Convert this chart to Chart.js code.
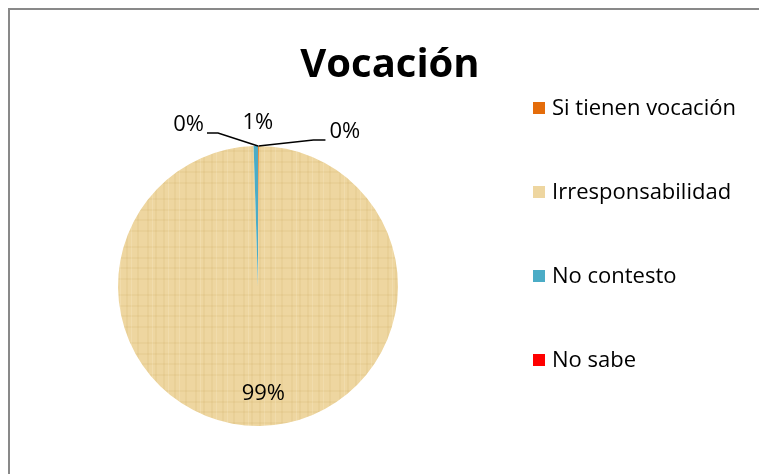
<!DOCTYPE html>
<html lang="es">
<head>
<meta charset="UTF-8">
<title>Vocación</title>
<script src="https://cdn.jsdelivr.net/npm/chart.js"></script>
<style>
    html, body { margin: 0; padding: 0; background: #fff; overflow: hidden; }
    #wrap { position: relative; width: 759px; height: 474px; }
    /* gray chart frame, right and bottom edges run off the picture */
    #frame { position: absolute; left: 8px; top: 8px; width: 800px; height: 500px; border: 2px solid #898989; }
    #pie { position: absolute; left: 0; top: 0; }
</style>
</head>
<body>
<div id="wrap">
    <div id="frame"></div>
    <canvas id="pie" width="759" height="474"></canvas>
</div>
<script>
    var chartTitle = 'Vocación';
    var categories = ['Si tienen vocación', 'Irresponsabilidad', 'No contesto', 'No sabe'];
    var values = [0.1, 99.4, 0.5, 0];
    var sliceColors = ['#E46C0A', '#EED6A0', '#4BACC6', '#FF0000'];

    var labelFont = '22px "Open Sans", sans-serif';

    function pctText(v) {
        var total = values.reduce(function (a, b) { return a + b; }, 0);
        return Math.round(v / total * 100 + 1e-9) + '%';
    }

    // papyrus-like fill for the big slice (light grid of darker streaks)
    function paperPattern(base) {
        var c = document.createElement('canvas');
        c.width = 48; c.height = 48;
        var g = c.getContext('2d');
        g.fillStyle = base;
        g.fillRect(0, 0, 48, 48);
        g.fillStyle = 'rgba(200,160,80,0.10)';
        [3, 11, 19, 30, 41].forEach(function (x) { g.fillRect(x, 0, 2, 48); });
        [6, 17, 27, 38].forEach(function (y) { g.fillRect(0, y, 48, 2); });
        g.fillStyle = 'rgba(255,250,230,0.18)';
        [8, 24, 35].forEach(function (x) { g.fillRect(x, 0, 1, 48); });
        return g.createPattern(c, 'repeat');
    }

    // title, legend and the percent labels (with leader lines) drawn on top of the pie
    var decorations = {
        id: 'decorations',
        afterDatasetsDraw: function (chart) {
            var ctx = chart.ctx;
            var meta = chart.getDatasetMeta(0);
            ctx.save();

            // title
            ctx.fillStyle = '#000';
            ctx.font = 'bold 40px "Open Sans", sans-serif';
            ctx.textAlign = 'center';
            ctx.textBaseline = 'alphabetic';
            ctx.fillText(chartTitle, 390, 77);

            // legend
            ctx.font = labelFont;
            ctx.textAlign = 'left';
            ctx.textBaseline = 'middle';
            categories.forEach(function (name, i) {
                var cy = 108 + i * 84;
                ctx.fillStyle = sliceColors[i];
                ctx.fillRect(533, cy - 6, 12, 12);
                ctx.fillStyle = '#000';
                ctx.fillText(name, 552, cy + 1);
            });

            // data labels
            ctx.strokeStyle = '#000';
            ctx.lineWidth = 1.5;
            meta.data.forEach(function (arc, i) {
                var p = arc.getProps(['x', 'y', 'startAngle', 'endAngle', 'outerRadius']);
                var mid = (p.startAngle + p.endAngle) / 2;
                var ax = p.x + Math.cos(mid) * p.outerRadius;
                var ay = p.y + Math.sin(mid) * p.outerRadius;
                var txt = pctText(values[i]);
                ctx.fillStyle = '#000';
                if (i === 1) {
                    // big slice: label inside
                    var r = p.outerRadius * 0.77;
                    ctx.textAlign = 'center';
                    ctx.fillText(txt, p.x + Math.cos(mid) * r + 4, p.y + Math.sin(mid) * r);
                } else if (i === 0) {
                    ctx.beginPath();
                    ctx.moveTo(ax, ay);
                    ctx.lineTo(ax + 55, ay - 6);
                    ctx.lineTo(ax + 67, ay - 6);
                    ctx.stroke();
                    ctx.textAlign = 'left';
                    ctx.fillText(txt, ax + 71, ay - 14);
                } else if (i === 2) {
                    ctx.textAlign = 'center';
                    ctx.fillText(txt, ax + 2, ay - 23);
                } else {
                    ctx.beginPath();
                    ctx.moveTo(ax, ay);
                    ctx.lineTo(ax - 40, ay - 13);
                    ctx.lineTo(ax - 51, ay - 13);
                    ctx.stroke();
                    ctx.textAlign = 'right';
                    ctx.fillText(txt, ax - 54, ay - 21);
                }
            });
            ctx.restore();
        }
    };

    var bg = sliceColors.slice();
    bg[1] = paperPattern(sliceColors[1]);

    new Chart(document.getElementById('pie'), {
        type: 'pie',
        data: {
            labels: categories,
            datasets: [{
                data: values,
                backgroundColor: bg,
                borderWidth: 0
            }]
        },
        options: {
            responsive: false,
            animation: false,
            devicePixelRatio: 1,
            layout: { padding: { left: 118, top: 146, right: 361, bottom: 48 } },
            plugins: {
                legend: { display: false },
                title: { display: false },
                tooltip: { enabled: false }
            }
        },
        plugins: [decorations]
    });
</script>
</body>
</html>
